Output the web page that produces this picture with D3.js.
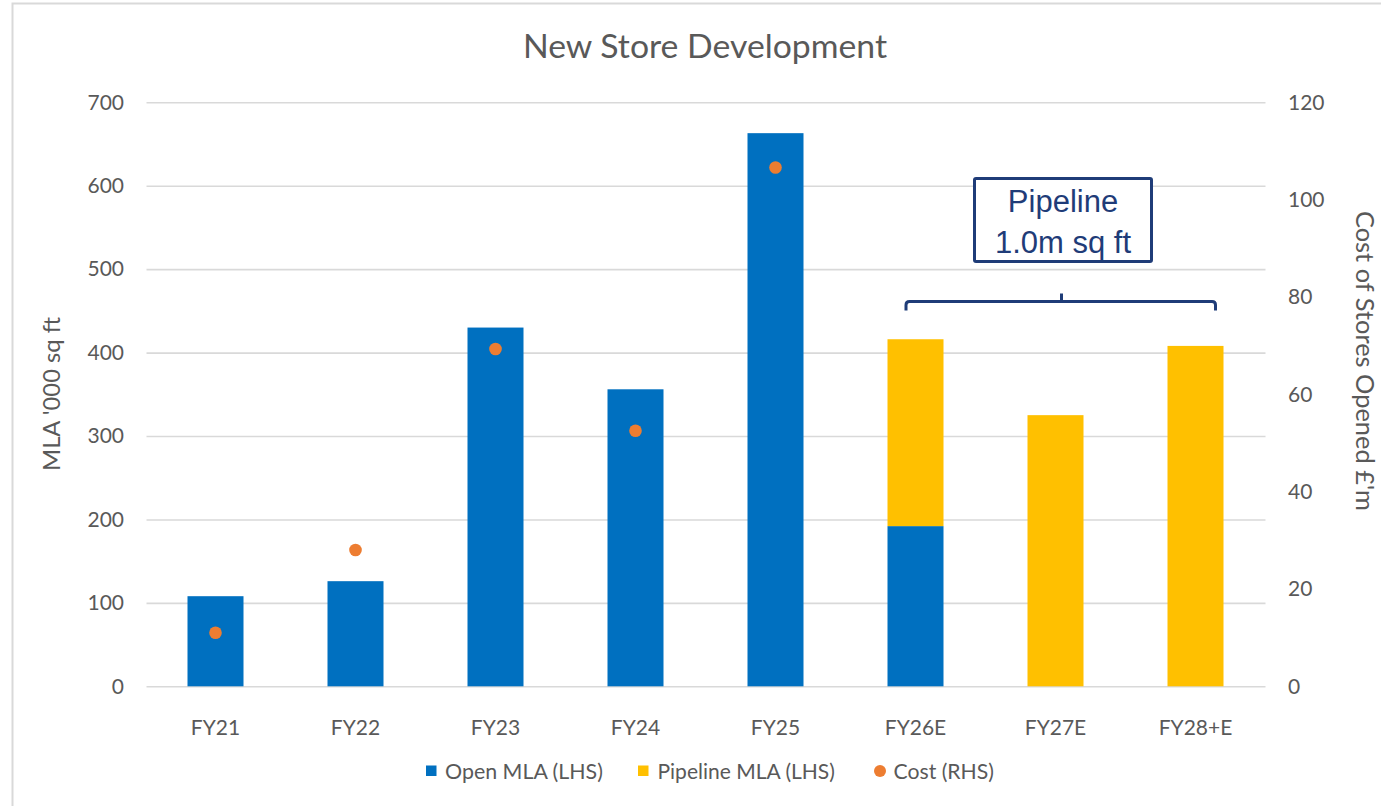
<!DOCTYPE html>
<html>
<head>
<meta charset="utf-8">
<script src="https://cdn.jsdelivr.net/npm/d3@7"></script>
<style>
  html, body { margin: 0; padding: 0; background: #fff; }
  svg { display: block; }
  text { font-family: Lato, "Open Sans", sans-serif; fill: #595959; }
  text.note { font-family: "Liberation Sans", Arial, sans-serif; fill: #1F3C78; }
</style>
</head>
<body>
<svg id="chart" width="1381" height="806"></svg>
<script>
// New store development: MLA opened / in pipeline ('000 sq ft) and cost of stores opened (£m)
const categories = ["FY21", "FY22", "FY23", "FY24", "FY25", "FY26E", "FY27E", "FY28+E"];
const openMLA = [108, 126, 430, 356, 663, 192, 0, 0];
const pipelineMLA = [0, 0, 0, 0, 0, 224, 325, 408];
const cost = [11, 28, 69.3, 52.5, 106.6, null, null, null];
const leftTicks = [0, 100, 200, 300, 400, 500, 600, 700];
const rightTicks = [0, 20, 40, 60, 80, 100, 120];
const seriesNames = ["Open MLA (LHS)", "Pipeline MLA (LHS)", "Cost (RHS)"];

const colors = { open: "#0070C0", pipeline: "#FFC000", cost: "#ED7D31", grid: "#D9D9D9", note: "#1F3C78" };

const svg = d3.select("#chart");
const plot = { left: 146.5, right: 1265.5, top: 102.3, bottom: 686.3 };

// scale text so it spans a given width
function fitWidth(sel, target) {
  const node = sel.node();
  const size = parseFloat(sel.attr("font-size"));
  const w = node.getComputedTextLength();
  if (w > 0) sel.attr("font-size", (size * target / w).toFixed(2));
  return sel;
}

// outer frame
svg.append("rect")
  .attr("x", 12.5).attr("y", 3.5)
  .attr("width", 1400).attr("height", 830)
  .attr("fill", "none").attr("stroke", "#D9D9D9").attr("stroke-width", 2);

const x = d3.scaleBand()
  .domain(categories)
  .range([plot.left - 1, plot.right])
  .paddingInner(0.6)
  .paddingOuter(0.3);

const yL = d3.scaleLinear().domain([0, 700]).range([plot.bottom, plot.top]);
const yR = d3.scaleLinear().domain([0, 120]).range([plot.bottom, plot.top]);

// left axis with gridlines
const gL = svg.append("g")
  .attr("transform", `translate(${plot.left},0)`)
  .call(d3.axisLeft(yL).tickValues(leftTicks)
    .tickSize(-(plot.right - plot.left))
    .tickPadding(22.5));
gL.select(".domain").remove();
gL.selectAll(".tick line").attr("stroke", colors.grid).attr("stroke-width", 1.6);
gL.selectAll(".tick text").attr("font-size", 21);

// right axis (labels only)
const gR = svg.append("g")
  .attr("transform", `translate(${plot.right},0)`)
  .call(d3.axisRight(yR).tickValues(rightTicks).tickSize(0).tickPadding(22.5));
gR.select(".domain").remove();
gR.selectAll(".tick text").attr("font-size", 21);

// stacked bars
const rows = categories.map((c, i) => ({ cat: c, open: openMLA[i], pipeline: pipelineMLA[i] }));
const stacked = d3.stack().keys(["open", "pipeline"])(rows);

svg.append("g").selectAll("g")
  .data(stacked)
  .join("g")
  .attr("fill", d => colors[d.key])
  .selectAll("rect")
  .data(d => d.filter(p => p[1] - p[0] > 0))
  .join("rect")
  .attr("x", d => x(d.data.cat))
  .attr("width", x.bandwidth())
  .attr("y", d => yL(d[1]))
  .attr("height", d => yL(d[0]) - yL(d[1]));

// x axis labels
const gX = svg.append("g")
  .attr("transform", `translate(0,${plot.bottom})`)
  .call(d3.axisBottom(x).tickSize(0).tickPadding(34));
gX.select(".domain").remove();
gX.selectAll(".tick text").attr("font-size", 21);

// cost markers
svg.append("g").selectAll("circle")
  .data(categories.map((c, i) => ({ cat: c, v: cost[i] })).filter(d => d.v != null))
  .join("circle")
  .attr("cx", d => x(d.cat) + x.bandwidth() / 2)
  .attr("cy", d => yR(d.v))
  .attr("r", 6.3)
  .attr("fill", colors.cost);

// title
fitWidth(svg.append("text")
  .attr("x", 705).attr("y", 58)
  .attr("text-anchor", "middle")
  .attr("font-size", 32)
  .text("New Store Development"), 364);

// axis titles
fitWidth(svg.append("text")
  .attr("transform", "translate(60,394) rotate(-90)")
  .attr("text-anchor", "middle")
  .attr("font-size", 21)
  .text("MLA '000 sq ft"), 154);

fitWidth(svg.append("text")
  .attr("transform", "translate(1356,361) rotate(90)")
  .attr("text-anchor", "middle")
  .attr("font-size", 21)
  .text("Cost of Stores Opened £'m"), 300);

// legend
const legY = 771;
const legend = [
  { name: seriesNames[0], shape: "rect", color: colors.open, mx: 426, tx: 445, tw: 158 },
  { name: seriesNames[1], shape: "rect", color: colors.pipeline, mx: 638, tx: 657.5, tw: 177.5 },
  { name: seriesNames[2], shape: "circle", color: colors.cost, mx: 874, tx: 893.5, tw: 100.5 }
];
legend.forEach(l => {
  if (l.shape === "rect") {
    svg.append("rect").attr("x", l.mx).attr("y", legY - 5.5)
      .attr("width", 10.5).attr("height", 10.5).attr("fill", l.color);
  } else {
    svg.append("circle").attr("cx", l.mx + 6).attr("cy", legY).attr("r", 6).attr("fill", l.color);
  }
  fitWidth(svg.append("text")
    .attr("x", l.tx).attr("y", legY)
    .attr("dy", "0.36em")
    .attr("font-size", 21)
    .text(l.name), l.tw);
});

// pipeline note box and bracket
const note = svg.append("g");
note.append("rect")
  .attr("x", 974.5).attr("y", 178.5).attr("width", 177).attr("height", 83)
  .attr("rx", 1.5)
  .attr("fill", "#fff").attr("stroke", colors.note).attr("stroke-width", 3);
note.append("text")
  .attr("class", "note")
  .attr("x", 1063).attr("y", 211.5)
  .attr("text-anchor", "middle")
  .attr("font-size", 31)
  .text("Pipeline");
note.append("text")
  .attr("class", "note")
  .attr("x", 1063).attr("y", 253)
  .attr("text-anchor", "middle")
  .attr("font-size", 31)
  .text("1.0m sq ft");

note.append("path")
  .attr("d", "M906,310.5 V305 Q906,301.5 909.5,301.5 H1212 Q1215.5,301.5 1215.5,305 V310.5 M1061.5,301.5 V293.5")
  .attr("fill", "none")
  .attr("stroke", colors.note)
  .attr("stroke-width", 3)
  .attr("stroke-linecap", "butt");
</script>
</body>
</html>
